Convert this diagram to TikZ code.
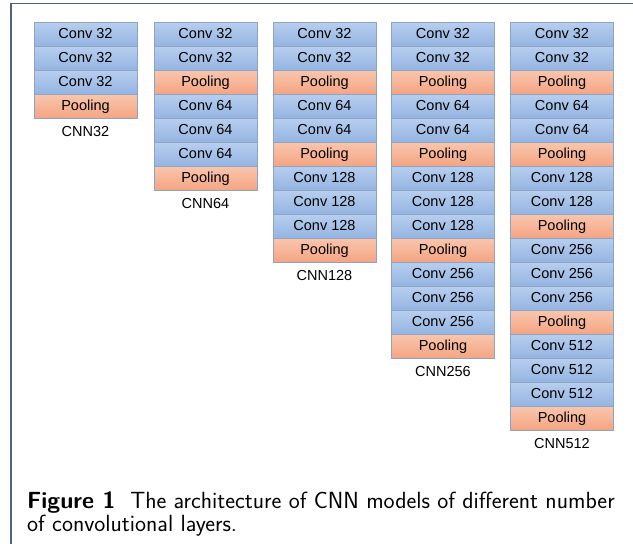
\documentclass[tikz,border=0pt]{standalone}
\usepackage{fontspec}
\usepackage{xcolor}
\usepackage{tikz}
\usetikzlibrary{positioning}
\newfontfamily\boxfont{Liberation Sans}
\definecolor{convtop}{HTML}{B7CFEF}
\definecolor{convbot}{HTML}{95B4E1}
\definecolor{pooltop}{HTML}{F9C6AD}
\definecolor{poolbot}{HTML}{F4A583}
\definecolor{boxline}{HTML}{8EA4C4}
\definecolor{framecol}{HTML}{4F6381}

\begin{document}
\begin{tikzpicture}[x=1pt, y=-1pt,
    layer/.style={draw=boxline, line width=0.6pt, minimum width=103pt, minimum height=24pt, inner sep=0pt,
        text height=10pt, text depth=1pt, font=\boxfont\fontsize{14.5}{16}\selectfont},
    conv/.style={layer, top color=convtop, bottom color=convbot},
    pool/.style={layer, top color=pooltop, bottom color=poolbot},
    tag/.style={font=\boxfont\fontsize{14.5}{16}\selectfont, inner sep=0pt}]
    \useasboundingbox (0,0) rectangle (633,544);
    % Frame
    \draw[framecol, line width=1.5pt] (11,600) -- (11,3.5) -- (700,3.5);

    % CNN32
    \foreach \t/\s [count=\r] in {Conv 32/conv, Conv 32/conv, Conv 32/conv, Pooling/pool}
        \node[\s] (a\r) at (85.5, 10+24*\r) {\t};
    \node[tag, below=8pt of a4] (la) {CNN32};

    % CNN64
    \foreach \t/\s [count=\r] in {Conv 32/conv, Conv 32/conv, Pooling/pool,
        Conv 64/conv, Conv 64/conv, Conv 64/conv, Pooling/pool}
        \node[\s] (b\r) at (205.5, 10+24*\r) {\t};
    \node[tag, below=8pt of b7] (lb) {CNN64};

    % CNN128
    \foreach \t/\s [count=\r] in {Conv 32/conv, Conv 32/conv, Pooling/pool,
        Conv 64/conv, Conv 64/conv, Pooling/pool,
        Conv 128/conv, Conv 128/conv, Conv 128/conv, Pooling/pool}
        \node[\s] (c\r) at (324.5, 10+24*\r) {\t};
    \node[tag, below=8pt of c10] (lc) {CNN128};

    % CNN256
    \foreach \t/\s [count=\r] in {Conv 32/conv, Conv 32/conv, Pooling/pool,
        Conv 64/conv, Conv 64/conv, Pooling/pool,
        Conv 128/conv, Conv 128/conv, Conv 128/conv, Pooling/pool,
        Conv 256/conv, Conv 256/conv, Conv 256/conv, Pooling/pool}
        \node[\s] (d\r) at (443, 10+24*\r) {\t};
    \node[tag, below=8pt of d14] (ld) {CNN256};

    % CNN512
    \foreach \t/\s [count=\r] in {Conv 32/conv, Conv 32/conv, Pooling/pool,
        Conv 64/conv, Conv 64/conv, Pooling/pool,
        Conv 128/conv, Conv 128/conv, Pooling/pool,
        Conv 256/conv, Conv 256/conv, Conv 256/conv, Pooling/pool,
        Conv 512/conv, Conv 512/conv, Conv 512/conv, Pooling/pool}
        \node[\s] (e\r) at (562, 10+24*\r) {\t};
    \node[tag, below=8pt of e17] (le) {CNN512};

    % Caption
    \node[anchor=north west, align=left, inner sep=0pt, font=\sffamily\fontsize{23.4}{23}\selectfont] (cap) at (27,492)
        {\textbf{Figure 1}\ \ The architecture of CNN models of different number\\of convolutional layers.};
\end{tikzpicture}
\end{document}
